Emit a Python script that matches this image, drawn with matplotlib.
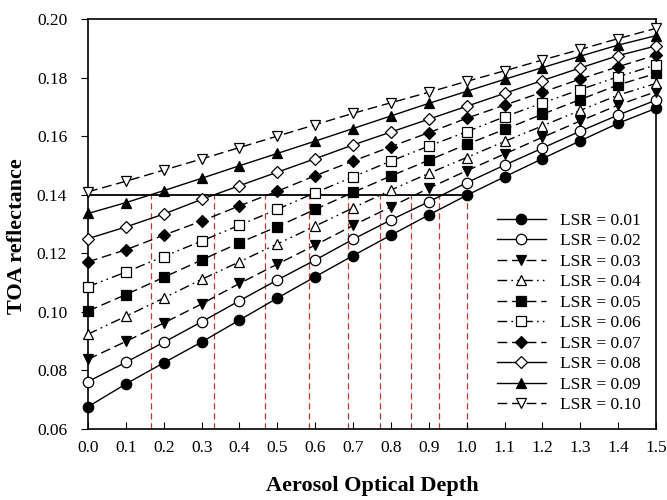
import matplotlib
matplotlib.use("Agg")
import matplotlib.pyplot as plt

aod = [0.0, 0.1, 0.2, 0.3, 0.4, 0.5, 0.6, 0.7, 0.8, 0.9, 1.0, 1.1, 1.2, 1.3, 1.4, 1.5]

lsr_001 = [0.0676, 0.0754, 0.0826, 0.0897, 0.0972, 0.1047, 0.1120, 0.1192, 0.1262, 0.1331, 0.1398, 0.1461, 0.1523, 0.1584, 0.1644, 0.1695]
lsr_002 = [0.0762, 0.0828, 0.0896, 0.0966, 0.1038, 0.1109, 0.1177, 0.1248, 0.1314, 0.1376, 0.1441, 0.1501, 0.1559, 0.1617, 0.1672, 0.1723]
lsr_003 = [0.0838, 0.0899, 0.0962, 0.1027, 0.1097, 0.1163, 0.1228, 0.1295, 0.1359, 0.1422, 0.1482, 0.1539, 0.1596, 0.1652, 0.1706, 0.1752]
lsr_004 = [0.0924, 0.0985, 0.1047, 0.1111, 0.1171, 0.1232, 0.1293, 0.1355, 0.1416, 0.1473, 0.1527, 0.1582, 0.1635, 0.1688, 0.1740, 0.1780]
lsr_005 = [0.1003, 0.1059, 0.1118, 0.1177, 0.1236, 0.1291, 0.1350, 0.1408, 0.1464, 0.1518, 0.1572, 0.1623, 0.1675, 0.1725, 0.1775, 0.1814]
lsr_006 = [0.1086, 0.1136, 0.1189, 0.1242, 0.1296, 0.1350, 0.1407, 0.1461, 0.1515, 0.1566, 0.1615, 0.1666, 0.1713, 0.1759, 0.1803, 0.1843]
lsr_007 = [0.1171, 0.1212, 0.1262, 0.1310, 0.1362, 0.1412, 0.1465, 0.1515, 0.1564, 0.1612, 0.1661, 0.1706, 0.1750, 0.1795, 0.1837, 0.1877]
lsr_008 = [0.1250, 0.1290, 0.1334, 0.1384, 0.1431, 0.1477, 0.1523, 0.1570, 0.1614, 0.1658, 0.1702, 0.1746, 0.1790, 0.1833, 0.1875, 0.1908]
lsr_009 = [0.1336, 0.1373, 0.1414, 0.1456, 0.1499, 0.1541, 0.1583, 0.1626, 0.1669, 0.1712, 0.1753, 0.1794, 0.1834, 0.1873, 0.1911, 0.1943]
lsr_010 = [0.1410, 0.1446, 0.1484, 0.1522, 0.1561, 0.1600, 0.1639, 0.1678, 0.1714, 0.1750, 0.1787, 0.1823, 0.1860, 0.1896, 0.1933, 0.1968]

labels = ["LSR = 0.01", "LSR = 0.02", "LSR = 0.03", "LSR = 0.04", "LSR = 0.05",
          "LSR = 0.06", "LSR = 0.07", "LSR = 0.08", "LSR = 0.09", "LSR = 0.10"]

# AOD where each curve reaches the 0.14 reference reflectance
ref_toa = 0.14
cross_aod = [0.166, 0.333, 0.467, 0.583, 0.687, 0.772, 0.854, 0.926, 1.0]

series = [lsr_001, lsr_002, lsr_003, lsr_004, lsr_005, lsr_006, lsr_007, lsr_008, lsr_009, lsr_010]

dash = (0, (7, 3.5))
dashdotdot = (0, (7, 3, 1.2, 3, 1.2, 3))
styles = [
    dict(marker="o", mfc="black", ls="-"),
    dict(marker="o", mfc="white", ls="-"),
    dict(marker="v", mfc="black", ls=dash),
    dict(marker="^", mfc="white", ls=dashdotdot),
    dict(marker="s", mfc="black", ls=dash),
    dict(marker="s", mfc="white", ls=dashdotdot),
    dict(marker="D", mfc="black", ls=dash),
    dict(marker="D", mfc="white", ls="-"),
    dict(marker="^", mfc="black", ls="-"),
    dict(marker="v", mfc="white", ls=dash),
]
msizes = {"o": 7.5, "v": 7.5, "^": 7.5, "s": 6.5, "D": 6.2}

serif = ["Liberation Serif", "DejaVu Serif"]
plt.rcParams["font.family"] = serif

fig = plt.figure(figsize=(6.67, 5.0), dpi=100)
ax = fig.add_axes([0.132, 0.142, 0.8515, 0.82])

for x in cross_aod:
    ax.plot([x, x], [0.06, ref_toa], color="#c0392b", lw=0.9, ls=(0, (5, 3)), zorder=1)
ax.plot([0.0, 1.0], [ref_toa, ref_toa], color="black", lw=1.3, zorder=2)

for vals, st, lab in zip(series, styles, labels):
    ax.plot(aod, vals, color="black", lw=1.0, ls=st["ls"], marker=st["marker"],
            mfc=st["mfc"], mec="black", mew=0.9, ms=msizes[st["marker"]],
            label=lab, zorder=3, clip_on=False)

ax.set_xlim(0, 1.5)
ax.set_ylim(0.06, 0.20)
ax.set_xticks([i / 10 for i in range(16)])
ax.set_xticklabels([f"{i/10:.1f}" for i in range(16)])
ax.set_yticks([0.06, 0.08, 0.10, 0.12, 0.14, 0.16, 0.18, 0.20])
ax.set_yticklabels(["0.06", "0.08", "0.10", "0.12", "0.14", "0.16", "0.18", "0.20"])
ax.tick_params(axis="x", direction="in", length=5, labelsize=12.5, pad=8)
ax.tick_params(axis="y", direction="out", length=5, labelsize=12.5, pad=10)
for sp in ax.spines.values():
    sp.set_linewidth(1.2)

ax.set_xlabel("Aerosol Optical Depth", fontsize=16, fontweight="bold", labelpad=14)
ax.set_ylabel("TOA reflectance", fontsize=16, fontweight="bold")
ax.yaxis.set_label_coords(-0.108, 0.47)

leg = ax.legend(loc="lower right", frameon=False, fontsize=12.5, handlelength=2.8,
                labelspacing=0.25, handletextpad=0.8, bbox_to_anchor=(1.0, 0.0))

fig.savefig("out.png", dpi=100)
